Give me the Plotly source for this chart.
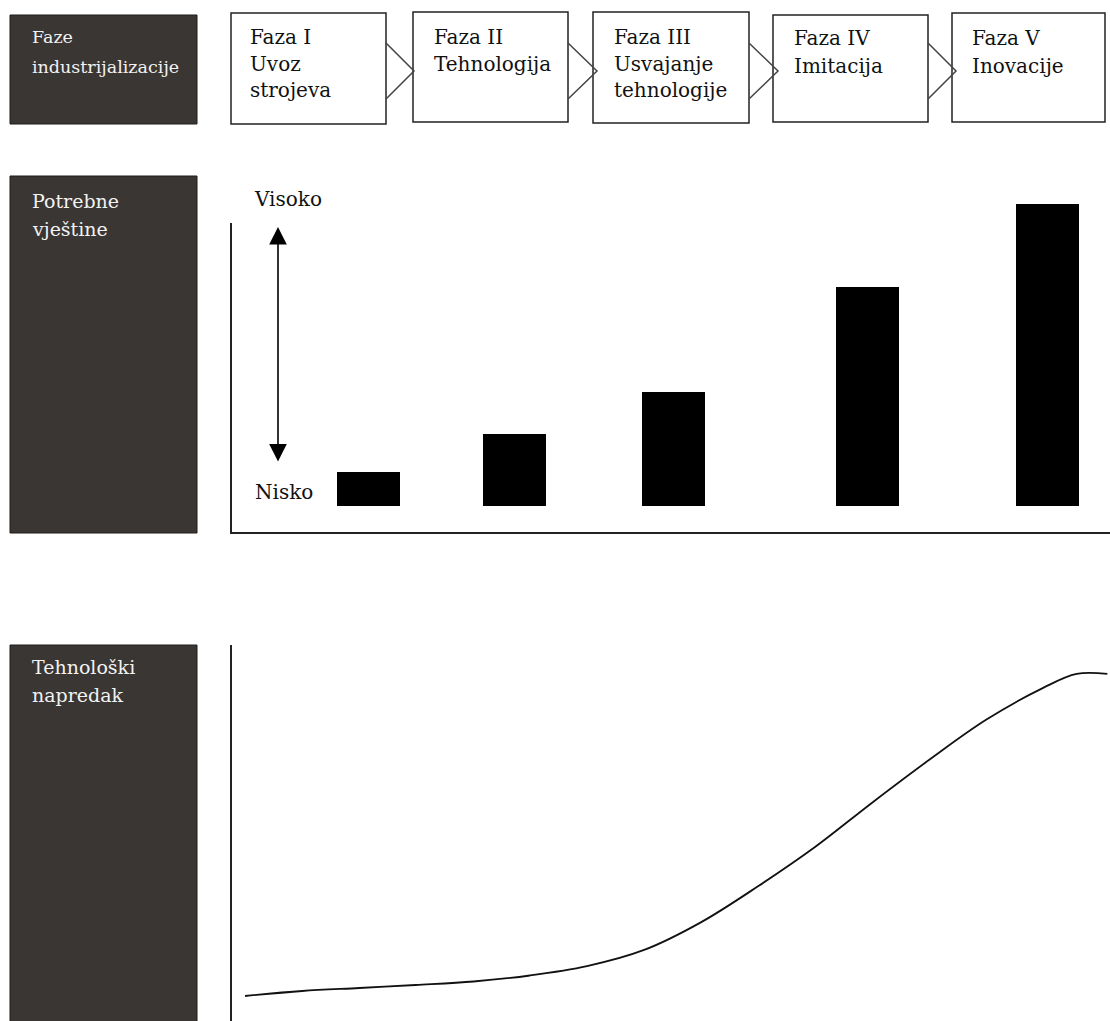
import plotly.graph_objects as go

W, H = 1110, 1021

# ---------------- data ----------------
phase_titles = ["Faza I", "Faza II", "Faza III", "Faza IV", "Faza V"]
phase_names = [["Uvoz", "strojeva"], ["Tehnologija"], ["Usvajanje", "tehnologije"],
               ["Imitacija"], ["Inovacije"]]
row_labels = [["Faze", "industrijalizacije"], ["Potrebne", "vještine"],
              ["Tehnološki", "napredak"]]
skill_high_label = "Visoko"
skill_low_label = "Nisko"

# bars: position along the industrialisation axis (0-10) and required skill level
bar_stage = [1.56, 3.22, 5.03, 7.24, 9.29]
skill_level = [11.5, 24.0, 38.0, 73.0, 100.5]

# technological progress curve
curve_stage = [0.16, 0.81, 1.46, 2.10, 2.76, 3.40, 4.05, 4.70, 5.35, 6.00,
               6.64, 7.29, 7.94, 8.59, 9.24, 9.62, 9.97]
tech_progress = [6.65, 7.98, 8.78, 9.57, 10.5, 12.1, 14.6, 18.9, 26.3, 35.9,
                 46.2, 58.0, 69.4, 80.1, 88.6, 92.3, 92.3]

# ---------------- helpers (pixel -> paper) ----------------
def px(x):
    return x / W

def py(y):
    return 1 - y / H

FONT = "DejaVu Serif"
DARK = "#3a3634"

fig = go.Figure()

fig.add_trace(go.Bar(
    x=bar_stage, y=skill_level, width=0.717, base=0,
    marker=dict(color="black", line=dict(width=0)),
    xaxis="x", yaxis="y", showlegend=False, hoverinfo="skip"))

fig.add_trace(go.Scatter(
    x=curve_stage, y=tech_progress, mode="lines",
    line=dict(color="#111", width=1.8, shape="spline", smoothing=1.0),
    xaxis="x2", yaxis="y2", showlegend=False, hoverinfo="skip"))

shapes = []
annotations = []

# dark row-label panels
dark_panels = [(10, 15, 197, 124), (10, 176, 197, 533), (10, 645, 197, 1025)]
for (x0, y0, x1, y1) in dark_panels:
    shapes.append(dict(type="rect", xref="paper", yref="paper",
                       x0=px(x0), x1=px(x1), y0=py(y0), y1=py(y1),
                       fillcolor=DARK, line=dict(color="#1e1c1b", width=1)))

# phase boxes
boxes = [(231, 13, 386, 124), (413, 12, 568, 122), (593, 12, 749, 123),
         (773, 15, 928, 122), (952, 13, 1105, 122)]
for (x0, y0, x1, y1) in boxes:
    shapes.append(dict(type="rect", xref="paper", yref="paper",
                       x0=px(x0), x1=px(x1), y0=py(y0), y1=py(y1),
                       fillcolor="white", line=dict(color="#222", width=1.5)))

# chevrons between boxes
chev = [(386, 414), (568, 597), (749, 778), (928, 956)]
for (a, b) in chev:
    path = "M {} {} L {} {} L {} {}".format(px(a), py(43), px(b), py(71), px(a), py(99))
    shapes.append(dict(type="path", xref="paper", yref="paper", path=path,
                       line=dict(color="#444", width=1.5)))

# axis lines
shapes.append(dict(type="line", xref="paper", yref="paper",
                   x0=px(231), x1=px(231), y0=py(223), y1=py(534),
                   line=dict(color="#222", width=2)))
shapes.append(dict(type="line", xref="paper", yref="paper",
                   x0=px(230), x1=px(1110), y0=py(533), y1=py(533),
                   line=dict(color="#222", width=2)))
shapes.append(dict(type="line", xref="paper", yref="paper",
                   x0=px(231), x1=px(231), y0=py(645), y1=py(1025),
                   line=dict(color="#222", width=2)))

OFF = 0.5  # offset between cap-middle and annotation centre

def text(x, y, s, size, color="#111"):
    annotations.append(dict(xref="paper", yref="paper", x=px(x), y=py(y + OFF),
                            text=s, showarrow=False, xanchor="left", yanchor="middle",
                            font=dict(family=FONT, size=size, color=color)))

# row labels
row_pos = [(30, [36.5, 66], 17.5), (30, [200, 228], 19), (30, [666, 694], 19)]
for (lab, (x, ys, size)) in zip(row_labels, row_pos):
    for s, y in zip(lab, ys):
        text(x, y, s, size, "#f2f2f2")

# phase texts
text_x = [248, 432, 612, 792, 970]
line_y = [36, 63.5, 90]
for i, (t, n) in enumerate(zip(phase_titles, phase_names)):
    lines = [t] + n
    for j, s in enumerate(lines):
        text(text_x[i], line_y[j] + (1.5 if i >= 3 else 0), s, 20)

# skill scale labels
text(252, 198.5, skill_high_label, 20)
text(253, 491.5, skill_low_label, 20)

# double-headed arrow
annotations.append(dict(xref="paper", yref="paper", x=px(278), y=py(227),
                        ax=0, ay=463 - 227, axref="pixel", ayref="pixel",
                        text="", showarrow=True, arrowhead=2, startarrowhead=2,
                        arrowside="end+start", arrowsize=2.2, startarrowsize=2.2,
                        arrowwidth=1.6, arrowcolor="black", standoff=0, startstandoff=0))

fig.update_layout(
    width=W, height=H,
    margin=dict(l=0, r=0, t=0, b=0),
    paper_bgcolor="white", plot_bgcolor="rgba(0,0,0,0)",
    shapes=shapes, annotations=annotations,
    bargap=0,
    xaxis=dict(domain=[px(231), 1.0], range=[0, 10], visible=False, fixedrange=True),
    yaxis=dict(domain=[py(533), py(190)], range=[-9, 105.33], visible=False, fixedrange=True),
    xaxis2=dict(domain=[px(231), 1.0], range=[0, 10], visible=False, fixedrange=True),
    yaxis2=dict(domain=[0, py(645)], range=[0, 100], visible=False, fixedrange=True),
)

fig.write_html("out.html", config={"displayModeBar": False},
               post_script="document.body.style.margin='0';document.body.style.overflow='hidden';")
